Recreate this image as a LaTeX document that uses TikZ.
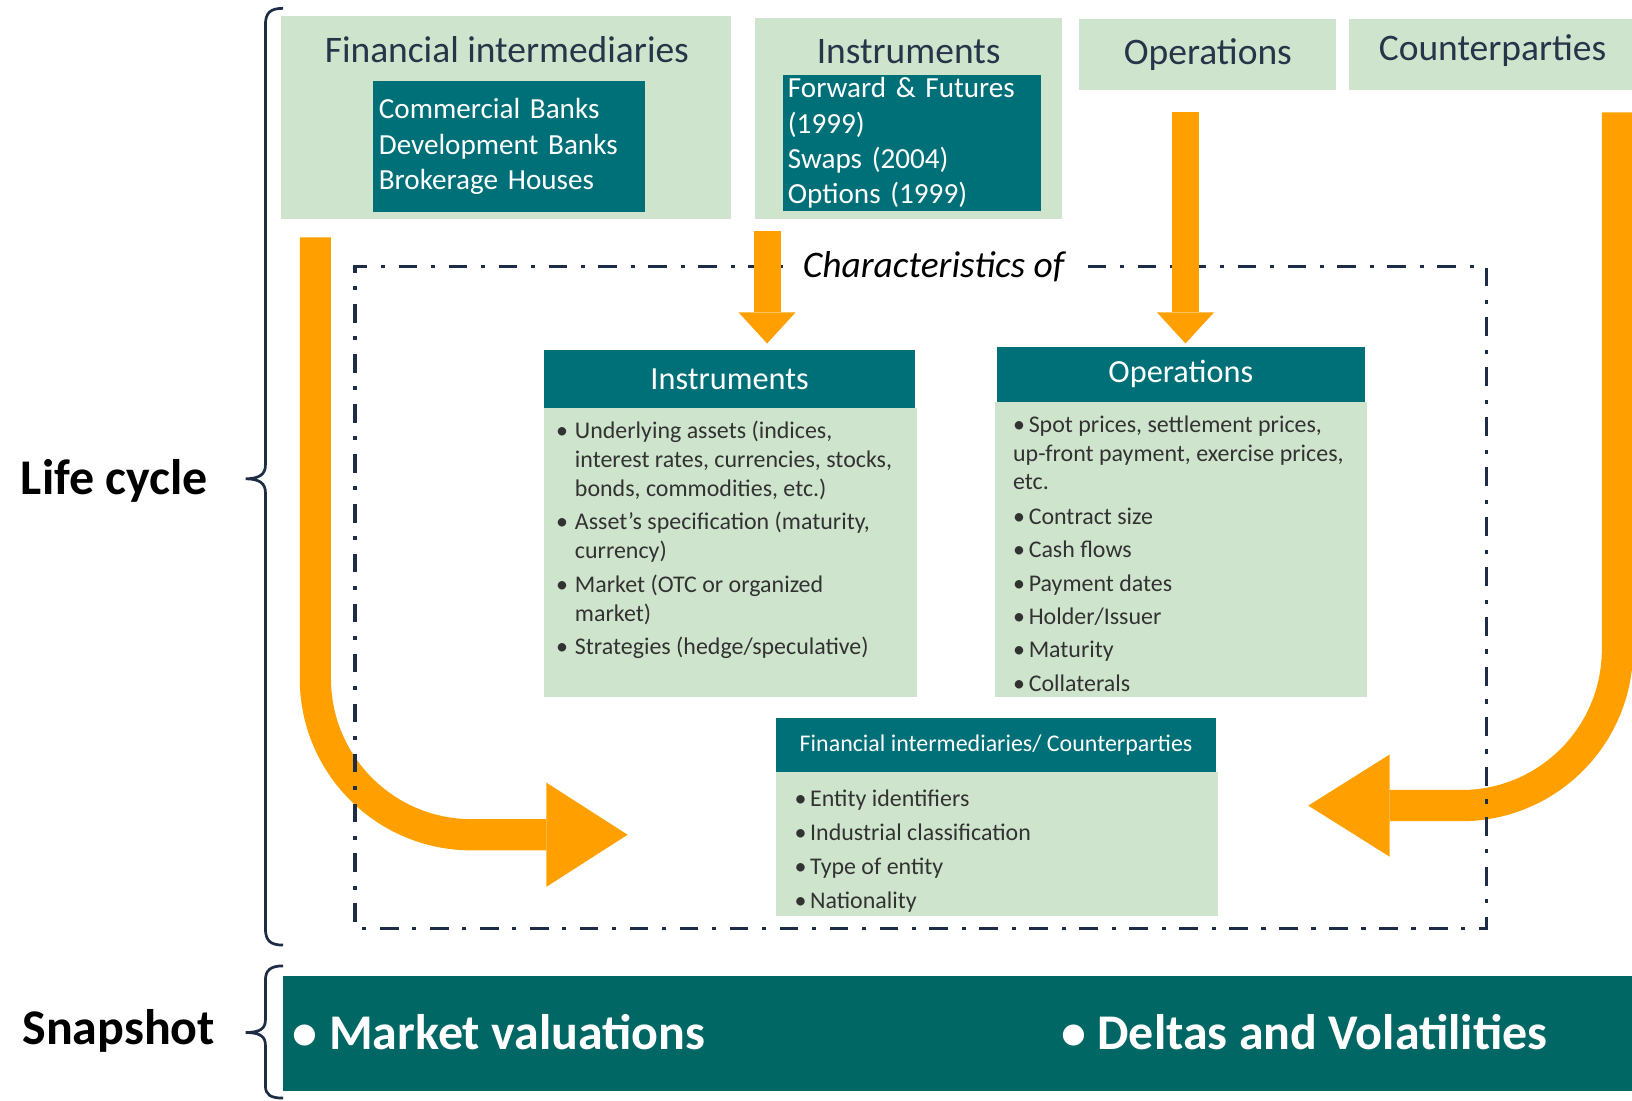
\documentclass[tikz,border=0pt]{standalone}
\usepackage{fontspec}
\setmainfont{Carlito}
\usetikzlibrary{arrows.meta}
\definecolor{lgreen}{RGB}{207,228,205}
\definecolor{teal1}{RGB}{0,112,120}
\definecolor{teal2}{RGB}{0,103,101}
\definecolor{orng}{RGB}{255,160,0}
\definecolor{navy}{RGB}{30,45,70}
\definecolor{titlec}{RGB}{40,52,72}
\definecolor{bodyc}{RGB}{50,50,50}
\newcommand{\mybul}[1]{\makebox[#1][l]{\textbullet}}
\begin{document}
\begin{tikzpicture}[x=0.5pt,y=-0.5pt,
  box/.style={rectangle, inner sep=0pt, outer sep=0pt},
  gbox/.style={box, fill=lgreen},
  tbox/.style={box, fill=teal1, text=white},
  toptitle/.style={inner sep=0pt, text=titlec, font=\fontsize{18}{22}\selectfont},
  toplist/.style={tbox, align=left, font=\fontsize{14}{17}\selectfont},
  cardhead/.style={tbox, font=\fontsize{15.5}{18}\selectfont},
  bodytext/.style={inner sep=0pt, text=bodyc, anchor=base west},
  sidelabel/.style={inner sep=0pt, text=black, font=\fontsize{24}{28}\selectfont\bfseries},
  snaptext/.style={inner sep=0pt, anchor=west, text=white, font=\fontsize{24}{28}\selectfont\bfseries},
  blockarrow/.style={draw=orng, line width=#1},
  frame/.style={draw=navy, line width=1.6pt, dash pattern=on 9pt off 6.5pt on 2pt off 6.5pt},
  bracket/.style={draw=navy, line width=1.3pt}
]
\useasboundingbox (0,0) rectangle (1568,1057);

% ---- top boxes ----
\node[gbox, minimum width=216pt, minimum height=97.5pt] (fiTop) at (486,112.5) {};
\node[toptitle] (fiTitle) at (487,48) {Financial intermediaries};
\node[toplist, minimum width=131pt, minimum height=63pt, text width=125pt, inner xsep=3pt] (fiList) at (489,141)
  {Commercial Banks\\Development Banks\\Brokerage Houses};

\node[gbox, minimum width=147.5pt, minimum height=96.5pt] (instTop) at (872.5,113.5) {};
\node[toptitle] (instTitle) at (873,50) {Instruments};
\node[toplist, minimum width=124pt, minimum height=65.5pt, text width=119pt, inner xsep=2.5pt] (instList) at (876,137.5)
  {Forward \& Futures\\(1999)\\Swaps (2004)\\Options (1999)};

\node[gbox, minimum width=123.5pt, minimum height=34pt, text=titlec, font=\fontsize{18}{22}\selectfont] (opTop) at (1160.5,52) {Operations};
\node[gbox, minimum width=136pt, minimum height=34pt] (cpTop) at (1432,52) {};
\node[toptitle] (cpTitle) at (1434,49) {Counterparties};

% ---- arrow end points ----
\coordinate (la) at (303,228);
\coordinate (lb) at (603,802);
\coordinate (ra) at (1554,108);
\coordinate (rb) at (1257,774);
\coordinate (ia) at (737,222);
\coordinate (ib) at (737,330);
\coordinate (oa) at (1139,108);
\coordinate (ob) at (1139,330);

% ---- curved arrows ----
\draw[blockarrow=15pt, rounded corners=75pt, -{Triangle[length=39pt,width=50pt,line width=0pt]}] (la) |- (lb);
\draw[blockarrow=15pt, rounded corners=75pt, -{Triangle[length=39pt,width=49pt,line width=0pt]}] (ra) |- (rb);

% ---- dash-dot frame ----
\draw[frame] (1045,256) -- (1428,256) -- (1428,892) -- (341,892) -- (341,256) -- (752,256);
\node[inner sep=0pt, text=black, font=\fontsize{18}{22}\selectfont\itshape] (charLbl) at (897,256) {Characteristics of};

% ---- straight arrows ----
\draw[blockarrow=13pt, -{Triangle[length=15pt,width=27.5pt,line width=0pt]}] (ia) -- (ib);
\draw[blockarrow=12.5pt, -{Triangle[length=15pt,width=27.5pt,line width=0pt]}] (oa) -- (ob);

% ---- Instruments card ----
\node[cardhead, minimum width=178pt, minimum height=28pt] (instHead) at (701,364) {Instruments};
\node[gbox, minimum width=179pt, minimum height=139pt] (instBody) at (702,531) {};
\node[bodytext, font=\fontsize{11.5}{14}\selectfont] (instText) at (534,421) {%
\begin{tabular}[t]{@{}l@{}l@{}}
\mybul{9pt} & Underlying assets (indices,\\
 & interest rates, currencies, stocks,\\
 & bonds, commodities, etc.)\\[2pt]
\mybul{9pt} & Asset’s specification (maturity,\\
 & currency)\\[2pt]
\mybul{9pt} & Market (OTC or organized\\
 & market)\\[2pt]
\mybul{9pt} & Strategies (hedge/speculative)
\end{tabular}};

% ---- Operations card ----
\node[cardhead, minimum width=176.5pt, minimum height=26.5pt] (opHead) at (1134.5,359.5) {Operations};
\node[gbox, minimum width=178.5pt, minimum height=142pt] (opBody) at (1134.5,528) {};
\node[bodytext, font=\fontsize{11.5}{13.5}\selectfont] (opText) at (973,416) {%
\begin{tabular}[t]{@{}l@{}}
\mybul{7.5pt}Spot prices, settlement prices,\\
up-front payment, exercise prices,\\
etc.\\[3.5pt]
\mybul{7.5pt}Contract size\\[2.5pt]
\mybul{7.5pt}Cash flows\\[2.5pt]
\mybul{7.5pt}Payment dates\\[2.5pt]
\mybul{7.5pt}Holder/Issuer\\[2.5pt]
\mybul{7.5pt}Maturity\\[2.5pt]
\mybul{7.5pt}Collaterals
\end{tabular}};

% ---- FI / Counterparties card ----
\node[tbox, minimum width=211pt, minimum height=26pt, font=\fontsize{11.5}{14}\selectfont] (fcHead) at (957,716) {Financial intermediaries/ Counterparties};
\node[gbox, minimum width=212pt, minimum height=69pt] (fcBody) at (958,811) {};
\node[bodytext, font=\fontsize{11.5}{16.3}\selectfont] (fcText) at (763,775) {%
\begin{tabular}[t]{@{}l@{}}
\mybul{7.5pt}Entity identifiers\\
\mybul{7.5pt}Industrial classification\\
\mybul{7.5pt}Type of entity\\
\mybul{7.5pt}Nationality
\end{tabular}};

% ---- Snapshot bar ----
\node[box, fill=teal2, minimum width=648pt, minimum height=55pt] (snap) at (920,993) {};
\node[snaptext] (snapA) at (281,992) {\mybul{17.5pt}Market valuations};
\node[snaptext] (snapB) at (1019,992) {\mybul{17.5pt}Deltas and Volatilities};

% ---- brackets and side labels ----
\draw[bracket] (272,8) .. controls (260,8) and (255,12) .. (255,24) -- (255,447)
  .. controls (255,455) and (250,460) .. (236,460)
  .. controls (250,460) and (255,465) .. (255,473) -- (255,892)
  .. controls (255,904) and (260,908) .. (272,908);
\draw[bracket] (272,928) .. controls (260,928) and (255,932) .. (255,942) -- (255,980)
  .. controls (255,988) and (250,992) .. (236,992)
  .. controls (250,992) and (255,996) .. (255,1004) -- (255,1043)
  .. controls (255,1052) and (260,1055) .. (272,1055);
\node[sidelabel] (lifeLbl) at (110,462) {Life cycle};
\node[sidelabel] (snapLbl) at (114,990) {Snapshot};
\end{tikzpicture}
\end{document}
